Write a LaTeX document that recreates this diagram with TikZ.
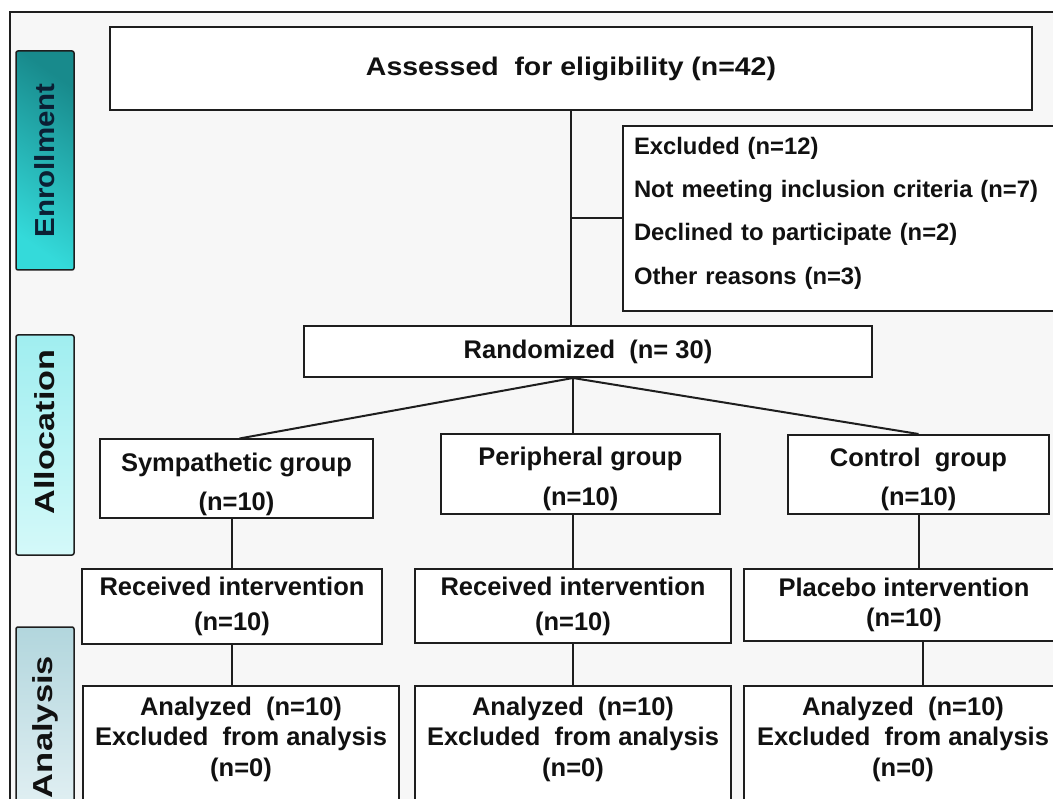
\documentclass[tikz,border=0pt]{standalone}
\usepackage{fontspec}
\setmainfont{Liberation Sans}
\usetikzlibrary{calc}
\definecolor{bg}{HTML}{F7F7F7}
\definecolor{ink}{HTML}{111111}
\definecolor{navy}{HTML}{0B1F33}
\definecolor{edge}{HTML}{1E1E1E}
\definecolor{enrD}{HTML}{188A8C}
\definecolor{enrL}{HTML}{34DADA}
\definecolor{allD}{HTML}{A0EEF0}
\definecolor{allL}{HTML}{D4F9F9}
\definecolor{anaD}{HTML}{B2D6DD}
\definecolor{anaL}{HTML}{E6F2F5}
\newcommand{\upby}[2]{\raisebox{#1}[\height][\depth]{#2}}
\newcommand{\ctab}[1]{\begin{tabular}{@{}c@{}}#1\end{tabular}}
\begin{document}
\begin{tikzpicture}[x=1pt,y=-1pt,
  box/.style={draw=edge,line width=2pt,fill=white,inner sep=0pt,text=ink,
     font=\bfseries\fontsize{25.5}{30.5}\selectfont},
  grp/.style={box,font=\bfseries\fontsize{25.5}{39.5}\selectfont},
  recv/.style={box,align=center,font=\bfseries\fontsize{25.5}{35}\selectfont},
  bar/.style={draw=edge,line width=1.5pt,rounded corners=2pt,inner sep=0pt,
     minimum width=58pt,text=ink,font=\bfseries\fontsize{27.5}{30}\selectfont},
  conn/.style={draw=edge,line width=2pt}]
\useasboundingbox (0,0) rectangle (1053,799);
\clip (0,0) rectangle (1053,799);
\fill[white] (0,0) rectangle (1053,799);
\filldraw[fill=bg,draw=edge,line width=1.5pt] (10,12) rectangle (1075,830);

% phase bars
\node[bar,minimum height=219pt,top color=enrD,bottom color=enrL,shading angle=-35,text=navy]
  (enr) at (45,160.5) {\rotatebox{90}{\resizebox{154pt}{\height}{Enrollment}}};
\node[bar,minimum height=220pt,top color=allD,bottom color=allL]
  (alloc) at (45,445) {\upby{13pt}{\rotatebox{90}{\resizebox{165pt}{\height}{Allocation}}}};
\node[bar,minimum height=200pt,top color=anaD,bottom color=anaL]
  (anal) at (45,727) {\rotatebox{90}{\resizebox{142pt}{\height}{Analysis}}};

% enrollment
\node[box,minimum width=922pt,minimum height=83pt] (assess) at (571,68.5)
  {\resizebox{410pt}{\height}{Assessed\ \ for eligibility (n=42)}};
\node[box,minimum width=447pt,minimum height=185pt,text width=425pt,inner xsep=11pt,
  align=left,font=\bfseries\fontsize{23.8}{43.3}\selectfont] (excl) at (846.5,218.5)
  {\upby{8pt}{\begin{tabular}{@{}l@{}}Excluded (n=12)\\Not meeting inclusion criteria (n=7)\\Declined to participate (n=2)\\Other reasons (n=3)\end{tabular}}};
\node[box,minimum width=568pt,minimum height=51pt] (rand) at (588,351.5) {Randomized\ \ (n= 30)};

% allocation
\node[grp,minimum width=273pt,minimum height=78pt] (symp) at (236.5,479) {\upby{-4pt}{\ctab{Sympathetic group\\(n=10)}}};
\node[grp,minimum width=279pt,minimum height=80pt] (peri) at (580.5,474) {\upby{-3.5pt}{\ctab{Peripheral group\\(n=10)}}};
\node[grp,minimum width=261pt,minimum height=79pt] (ctrl) at (918.5,474.5) {\upby{-3.5pt}{\ctab{Control\ \ group\\(n=10)}}};

\node[recv,minimum width=300pt,minimum height=75pt] (rec1) at (232,606.5) {Received intervention\\(n=10)};
\node[recv,minimum width=316pt,minimum height=74pt] (rec2) at (573,606) {Received intervention\\(n=10)};
\node[box,align=center,minimum width=320pt,minimum height=72pt] (plac) at (904,605) {Placebo intervention\\(n=10)};

% analysis
\node[box,minimum width=316pt,minimum height=130pt] (ana1) at (241,751)
  {\upby{11.5pt}{\ctab{Analyzed\ \ (n=10)\\Excluded\ \ from analysis\\(n=0)}}};
\node[box,minimum width=316pt,minimum height=130pt] (ana2) at (573,751)
  {\upby{11.5pt}{\ctab{Analyzed\ \ (n=10)\\Excluded\ \ from analysis\\(n=0)}}};
\node[box,minimum width=318pt,minimum height=130pt] (ana3) at (903,751)
  {\upby{11.5pt}{\ctab{Analyzed\ \ (n=10)\\Excluded\ \ from analysis\\(n=0)}}};

% connectors
\draw[conn] (assess.south) -- (assess.south |- rand.north);
\draw[conn] (assess.south |- excl.west) -- (excl.west);
\coordinate (rb) at ($(rand.south)+(-15,0)$);
\draw[conn] (rb) -- ($(symp.north)+(3,0)$);
\draw[conn] (rb) -- (rb |- peri.north);
\draw[conn] (rb) -- (ctrl.north);
\draw[conn] (rec1.north) -- (rec1.north |- symp.south);
\draw[conn] (rec1.south) -- (rec1.south |- ana1.north);
\draw[conn] (rec2.north) -- (rec2.north |- peri.south);
\draw[conn] (rec2.south) -- (rec2.south |- ana2.north);
\draw[conn] (ctrl.south) -- (ctrl.south |- plac.north);
\draw[conn] ($(ctrl.south |- plac.south)+(4,0)$) -- ($(ctrl.south |- ana3.north)+(4,0)$);
\end{tikzpicture}
\end{document}
